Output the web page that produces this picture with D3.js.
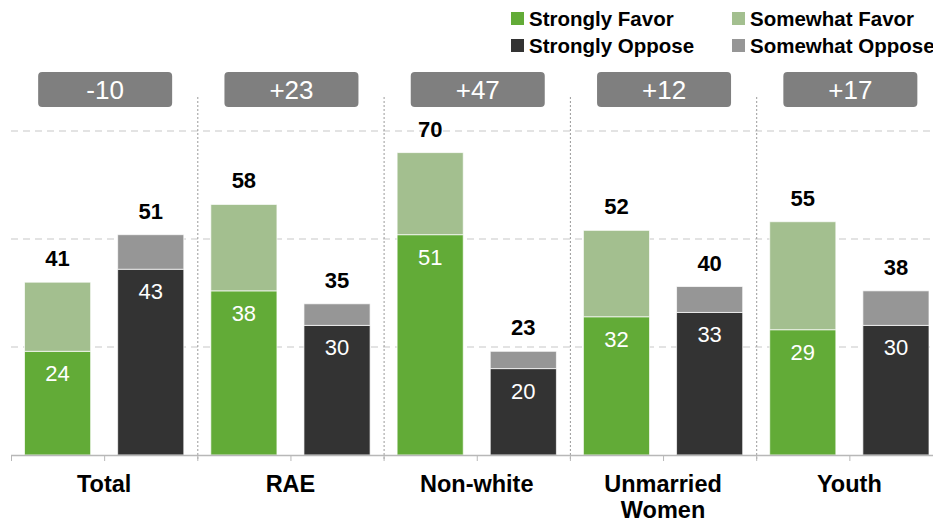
<!DOCTYPE html>
<html><head><meta charset="utf-8">
<script src="https://cdn.jsdelivr.net/npm/d3@7"></script>
<style>body{margin:0;background:#fff;overflow:hidden}svg{display:block;font-family:"Liberation Sans",Arial,sans-serif}</style>
</head><body><svg id="c" width="933" height="525"></svg>
<script>
const categories = [["Total"], ["RAE"], ["Non-white"], ["Unmarried", "Women"], ["Youth"]];
const netLabels = ["-10", "+23", "+47", "+12", "+17"];
const strongFavor = [24, 38, 51, 32, 29];
const somewhatFavor = [16, 20, 19, 20, 25];
const favorTotal = [41, 58, 70, 52, 55];
const strongOppose = [43, 30, 20, 33, 30];
const somewhatOppose = [8, 5, 4, 6, 8];
const opposeTotal = [51, 35, 23, 40, 38];
const yTicks = [25, 50, 75];
const legendItems = ["Strongly Favor", "Somewhat Favor", "Strongly Oppose", "Somewhat Oppose"];

const colors = {sf: "#62AB37", wf: "#A3BF8F", so: "#333333", wo: "#969696"};
const svg = d3.select("#c");
const x0 = d3.scaleBand().domain(d3.range(categories.length)).range([11, 942.5]).paddingInner(0).paddingOuter(0);
const x1 = d3.scaleBand().domain(["favor", "oppose"]).range([0, x0.bandwidth()]).paddingInner(0.29).paddingOuter(0.145);
const y = d3.scaleLinear().domain([0, 75]).range([455, 131]);

// gridlines
svg.append("g").selectAll("line").data(yTicks).join("line")
  .attr("x1", 11).attr("x2", 933).attr("y1", d => y(d)).attr("y2", d => y(d))
  .attr("stroke", "#c8c8c8").attr("stroke-width", 1.2).attr("stroke-dasharray", "7,5");

// group dividers
svg.append("g").selectAll("line").data(d3.range(1, categories.length)).join("line")
  .attr("x1", d => x0(d) + 0.5).attr("x2", d => x0(d) + 0.5).attr("y1", 97).attr("y2", 461)
  .attr("stroke", "#9a9a9a").attr("stroke-width", 1).attr("stroke-dasharray", "2,2");

// bars
const stacks = [];
categories.forEach((c, i) => {
  stacks.push({i, s: "favor", y0: 0, y1: strongFavor[i], c: colors.sf, lab: strongFavor[i]});
  stacks.push({i, s: "favor", y0: strongFavor[i], y1: strongFavor[i] + somewhatFavor[i], c: colors.wf});
  stacks.push({i, s: "oppose", y0: 0, y1: strongOppose[i], c: colors.so, lab: strongOppose[i]});
  stacks.push({i, s: "oppose", y0: strongOppose[i], y1: strongOppose[i] + somewhatOppose[i], c: colors.wo});
});
svg.append("g").selectAll("rect").data(stacks).join("rect")
  .attr("x", d => x0(d.i) + x1(d.s)).attr("width", x1.bandwidth())
  .attr("y", d => y(d.y1)).attr("height", d => y(d.y0) - y(d.y1))
  .attr("fill", d => d.c).attr("stroke", "#fff").attr("stroke-opacity", 0.7).attr("stroke-width", 1);

// inner labels
svg.append("g").selectAll("text").data(stacks.filter(d => d.lab !== undefined)).join("text")
  .attr("x", d => x0(d.i) + x1(d.s) + x1.bandwidth() / 2).attr("y", d => y(d.y1) + 30)
  .attr("text-anchor", "middle").attr("fill", "#fff").attr("font-size", 22).text(d => d.lab);

// total labels
const tops = [];
categories.forEach((c, i) => {
  tops.push({i, s: "favor", v: strongFavor[i] + somewhatFavor[i], lab: favorTotal[i]});
  tops.push({i, s: "oppose", v: strongOppose[i] + somewhatOppose[i], lab: opposeTotal[i]});
});
svg.append("g").selectAll("text").data(tops).join("text")
  .attr("x", d => x0(d.i) + x1(d.s) + x1.bandwidth() / 2).attr("y", d => y(d.v) - 16)
  .attr("text-anchor", "middle").attr("fill", "#000").attr("font-size", 22).attr("font-weight", "bold").text(d => d.lab);

// net boxes
const nb = svg.append("g").selectAll("g").data(netLabels).join("g")
  .attr("transform", (d, i) => `translate(${x0(i) + x0.bandwidth() / 2 + 1},0)`);
nb.append("rect").attr("x", -67).attr("y", 72).attr("width", 134).attr("height", 35).attr("rx", 4).attr("fill", "#7F7F7F");
nb.append("text").attr("y", 99).attr("text-anchor", "middle").attr("fill", "#fff").attr("font-size", 26).text(d => d);

// x axis
const ax = svg.append("g");
ax.append("line").attr("x1", 11).attr("x2", 933).attr("y1", 455.5).attr("y2", 455.5).attr("stroke", "#b8b8b8").attr("stroke-width", 1.5);
const tickPos = [];
categories.forEach((c, i) => { tickPos.push(x0(i)); tickPos.push(x0(i) + x1.step()); });
ax.selectAll("line.t").data(tickPos).join("line").attr("class", "t")
  .attr("x1", d => d + 0.5).attr("x2", d => d + 0.5).attr("y1", 455).attr("y2", 461).attr("stroke", "#b8b8b8");
const cl = ax.selectAll("text").data(categories).join("text")
  .attr("x", (d, i) => x0(i) + x0.bandwidth() / 2).attr("y", 492)
  .attr("text-anchor", "middle").attr("font-size", 23.5).attr("font-weight", "bold").attr("fill", "#000");
cl.selectAll("tspan").data(d => d).join("tspan")
  .attr("x", function() { return this.parentNode.getAttribute("x"); })
  .attr("dy", (d, j) => j === 0 ? 0 : 26).text(d => d);

// legend
const lg = svg.append("g").selectAll("g").data(legendItems).join("g")
  .attr("transform", (d, i) => `translate(${i % 2 === 0 ? 511 : 732},${i < 2 ? 12 : 39})`);
lg.append("rect").attr("width", 13).attr("height", 13).attr("fill", (d, i) => [colors.sf, colors.wf, colors.so, colors.wo][i]);
lg.append("text").attr("x", 18).attr("y", 13.5).attr("font-size", 20.5).attr("font-weight", "bold").attr("fill", "#000").text(d => d);
</script></body></html>
